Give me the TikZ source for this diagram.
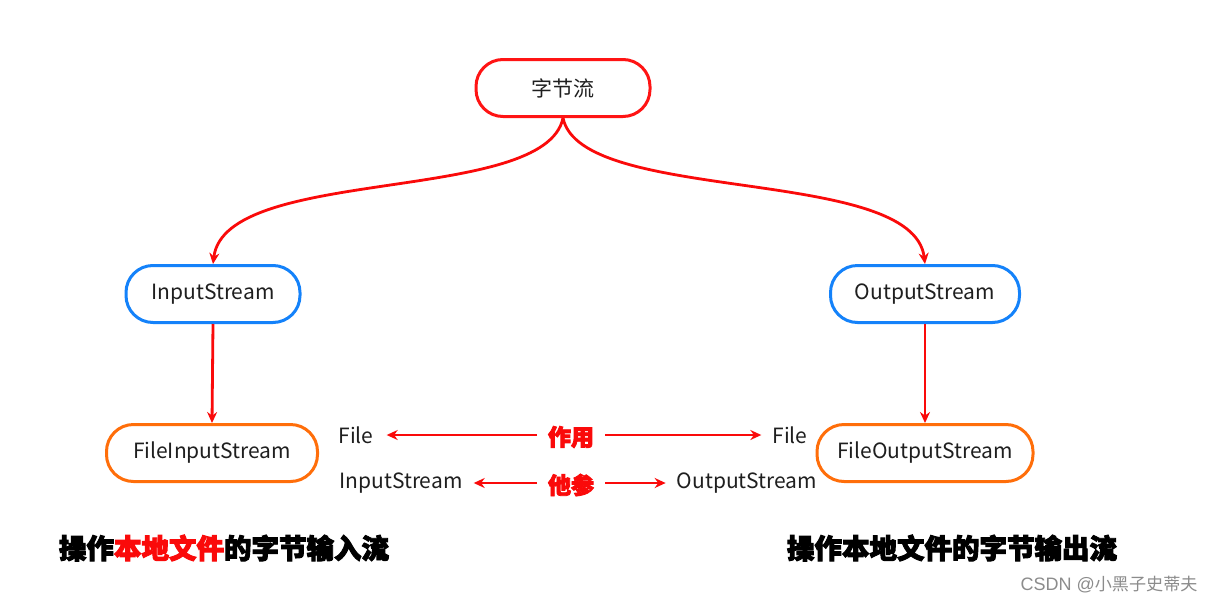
\documentclass[tikz,border=0pt]{standalone}
\usepackage{fontspec}
\setmainfont{Noto Sans CJK SC}
\newfontfamily\cjkheavy{Noto Sans CJK SC}[BoldFeatures={FakeBold=3.5}]
\newfontfamily\wmfont{Liberation Sans}
\newfontfamily\wmcjk{Noto Sans CJK SC}[Scale=0.95]
\usetikzlibrary{arrows.meta}
\definecolor{boxred}{RGB}{255,20,20}
\definecolor{boxblue}{RGB}{20,130,250}
\definecolor{boxorange}{RGB}{255,110,10}
\definecolor{arrred}{RGB}{250,10,10}
\tikzset{
  pill/.style={draw, line width=3pt, fill=white, rectangle, rounded corners=27pt,
    minimum height=57pt, inner sep=0pt, font=\fontsize{21}{24}\selectfont, text=black!88},
  conn/.style={draw=arrred, line width=2.8pt, -{Stealth[length=11pt,width=10pt]}},
  lbl/.style={font=\fontsize{21}{24}\selectfont, text=black!88, inner sep=1pt},
  keyw/.style={font=\cjkheavy\bfseries\fontsize{23}{25}\selectfont, text=arrred, inner sep=1pt},
  caption/.style={font=\cjkheavy\bfseries\fontsize{27.5}{29}\selectfont, text=black, inner sep=0pt}
}
\begin{document}
\begin{tikzpicture}[x=1pt,y=-1pt]
\useasboundingbox[fill=white] (0,0) rectangle (1220,608);
\node[pill, draw=boxred, minimum width=174pt] (top) at (563,88) {字节流};
\node[pill, draw=boxblue, minimum width=174pt] (in) at (213,294) {InputStream};
\node[pill, draw=boxblue, minimum width=189pt] (out) at (925,294) {OutputStream};
\node[pill, draw=boxorange, minimum width=211pt] (fin) at (212,453) {FileInputStream};
\node[pill, draw=boxorange, minimum width=216pt] (fout) at (925,453) {FileOutputStream};

\draw[conn] (top.south) .. controls (545,205) and (225,165) .. (in.north);
\draw[conn] (top.south) .. controls (581,205) and (913,165) .. (out.north);
\draw[conn] (in.south) -- (fin.north);
\draw[conn] (out.south) -- (fout.north);

\node[lbl] (file1) at (356,435) {File};
\node[keyw] (zy) at (571,437) {作用};
\node[lbl] (file2) at (790,435) {File};
\node[lbl] (is) at (401,483) {InputStream};
\node[keyw] (cs) at (571,485) {他参};
\node[lbl] (os) at (747,483) {OutputStream};
\coordinate (zyl) at (537,435);
\coordinate (zyr) at (605,435);
\coordinate (csl) at (537,483);
\coordinate (csr) at (605,483);
\draw[conn, shorten >=12pt] (zyl) -- (file1.east);
\draw[conn, shorten >=10pt] (zyr) -- (file2.west);
\draw[conn, shorten >=10pt] (csl) -- (is.east);
\draw[conn, shorten >=10pt] (csr) -- (os.west);

\node[caption] (capl) at (224,548) {操作\textcolor{arrred}{本地文件}的字节输入流};
\node[caption] (capr) at (952,548) {操作本地文件的字节输出流};
\node[font=\fontsize{18}{20}\selectfont, text=black!45, inner sep=0pt] (wm) at (1109,585) {\wmfont CSDN @\wmcjk 小黑子史蒂夫};
\end{tikzpicture}
\end{document}
